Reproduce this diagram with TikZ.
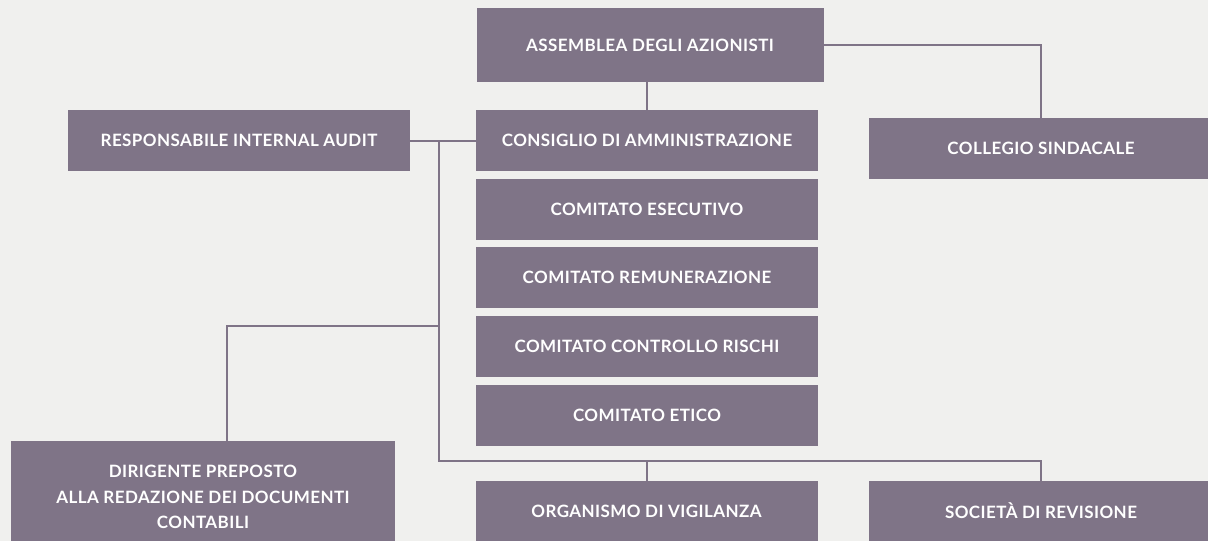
\documentclass[tikz,border=0pt]{standalone}
\usepackage{fontspec}
\setmainfont{Lato}[LetterSpace=2.5]
\definecolor{boxc}{RGB}{127,116,135}
\definecolor{bgc}{RGB}{240,240,238}
\begin{document}
\begin{tikzpicture}[x=1pt,y=-1pt,
  box/.style={fill=boxc, text=white, font=\bfseries\fontsize{17}{25.5}\selectfont, inner sep=0pt, align=center, minimum width=342pt, minimum height=61pt},
  conn/.style={draw=boxc, line width=2pt}]
\useasboundingbox (0,0) rectangle (1208,541);
\fill[bgc] (0,0) rectangle (1208,541);
\begin{scope}
\clip (0,0) rectangle (1208,541);
\node[box, minimum width=347pt, minimum height=74pt] (ass) at (650,45) {ASSEMBLEA DEGLI AZIONISTI};
\node[box] (aud) at (239,140.5) {RESPONSABILE INTERNAL AUDIT};
\node[box] (cda) at (647,140.5) {CONSIGLIO DI AMMINISTRAZIONE};
\node[box] (ese) at (647,209.5) {COMITATO ESECUTIVO};
\node[box] (rem) at (647,277.5) {COMITATO REMUNERAZIONE};
\node[box] (ris) at (647,346.5) {COMITATO CONTROLLO RISCHI};
\node[box] (eti) at (647,415.5) {COMITATO ETICO};
\node[box, minimum width=344pt] (col) at (1041,148.5) {COLLEGIO SINDACALE};
\node[box, minimum height=60pt] (org) at (646.5,511) {ORGANISMO DI VIGILANZA};
\node[box, minimum width=344pt, minimum height=60pt] (soc) at (1041,511) {SOCIETÀ DI REVISIONE};
\node[box, minimum width=384pt, minimum height=112pt] (dir) at (203,497) {DIRIGENTE PREPOSTO\\ALLA REDAZIONE DEI DOCUMENTI\\CONTABILI};
\end{scope}
\coordinate (jt) at (439,140.5);
\coordinate (jm) at (439,326);
\coordinate (jb) at (439,461);
\coordinate (dtop) at (227,441);
\draw[conn] (cda.north) -- (cda.north |- ass.south);
\draw[conn] (ass.east) -| (col.north);
\draw[conn] (aud.east) -- (cda.west);
\draw[conn] (jt) -- (jb) -| (soc.north);
\draw[conn] (jb -| org.north) -- (org.north);
\draw[conn] (jm) -| (dtop);
\end{tikzpicture}
\end{document}
